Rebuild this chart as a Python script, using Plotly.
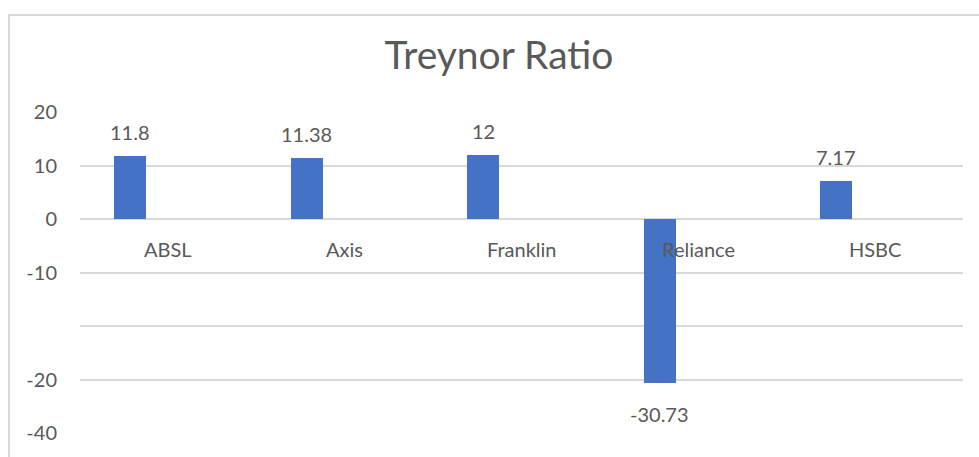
import plotly.graph_objects as go

categories = ["ABSL", "Axis", "Franklin", "Reliance", "HSBC"]
values = [11.8, 11.38, 12, -30.73, 7.17]
value_labels = ["11.8", "11.38", "12", "-30.73", "7.17"]
y_tickvals = [20, 10, 0, -10, -20, -30, -40]
y_ticktext = ["20", "10", "0", "-10", "", "-20", "-40"]

BAR_COLOR = "#4472C4"
TEXT_COLOR = "#595959"
GRID_COLOR = "#d9d9d9"
FONT = "Lato"
LABEL_SIZE = 20
BAR_OFFSET = -0.307
BAR_WIDTH = 0.181

x_idx = list(range(len(categories)))

fig = go.Figure()
fig.add_trace(go.Bar(
    x=x_idx, y=values,
    marker=dict(color=BAR_COLOR, line=dict(width=0)),
    width=BAR_WIDTH, offset=BAR_OFFSET,
    hoverinfo="skip", showlegend=False,
))

annotations = []
# value labels
for i, (v, t) in enumerate(zip(values, value_labels)):
    annotations.append(dict(
        x=i + BAR_OFFSET + BAR_WIDTH / 2, y=v, xref="x", yref="y",
        text=t, showarrow=False,
        yshift=24 if v >= 0 else -31,
        font=dict(family=FONT, size=LABEL_SIZE, color=TEXT_COLOR),
    ))
# category labels next to the zero line
for i, c in enumerate(categories):
    annotations.append(dict(
        x=i, y=0, xref="x", yref="y", text=c, showarrow=False,
        yshift=-30,
        font=dict(family=FONT, size=LABEL_SIZE, color=TEXT_COLOR),
    ))

W, H = 979, 457
L, R, T, B = 80, 16, 112, 24
pw, ph = W - L - R, H - T - B

def px(xp):
    return (xp - L) / pw

def py(yp):
    return 1 - (yp - T) / ph

border = dict(
    type="path", xref="paper", yref="paper",
    path=f"M {px(9)} {py(460)} L {px(9)} {py(15)} L {px(982)} {py(15)}",
    line=dict(color=GRID_COLOR, width=2),
)

fig.update_layout(
    width=W, height=H,
    margin=dict(l=L, r=R, t=T, b=B),
    paper_bgcolor="white", plot_bgcolor="white",
    title=dict(text="Treynor Ratio", x=499 / W, xref="container", xanchor="center",
               y=1 - 55 / H, yanchor="middle", yref="container",
               font=dict(family=FONT, size=39, color=TEXT_COLOR)),
    xaxis=dict(range=[-0.5, len(categories) - 0.5], showticklabels=False,
               showgrid=False, zeroline=False, showline=False, ticks=""),
    yaxis=dict(range=[-40, 20], tickvals=y_tickvals, ticktext=y_ticktext,
               showgrid=True, gridcolor=GRID_COLOR, gridwidth=1.5,
               zeroline=False, showline=False, ticks="",
               ticklabelstandoff=22,
               tickfont=dict(family=FONT, size=LABEL_SIZE, color=TEXT_COLOR)),
    annotations=annotations,
    shapes=[border],
    bargap=0,
)

fig.write_html("out.html",
               config={"displayModeBar": False},
               post_script="document.body.style.margin='0';document.body.style.overflow='hidden';")
